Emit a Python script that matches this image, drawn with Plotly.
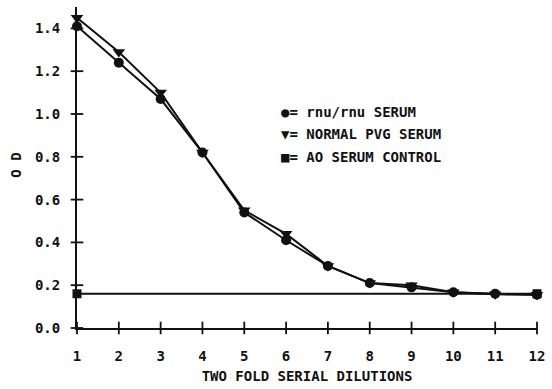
import plotly.graph_objects as go

dilutions = [1, 2, 3, 4, 5, 6, 7, 8, 9, 10, 11, 12]
rnu_serum = [1.41, 1.24, 1.07, 0.82, 0.54, 0.41, 0.29, 0.21, 0.19, 0.167, 0.16, 0.155]
pvg_serum = [1.45, 1.29, 1.10, 0.82, 0.55, 0.44, 0.29, 0.21, 0.20, 0.167, 0.158, 0.155]
control_x = [1, 12]
control_y = [0.16, 0.16]

y_ticks = [0.0, 0.2, 0.4, 0.6, 0.8, 1.0, 1.2, 1.4]
y_labels = ["0.0", "0.2", "0.4", "0.6", "0.8", "1.0", "1.2", "1.4"]
x_ticks = dilutions
x_labels = [str(v) for v in dilutions]

legend_rows = ["●= rnu/rnu SERUM", "▼= NORMAL PVG SERUM", "■= AO SERUM CONTROL"]
legend_y = [1.01, 0.905, 0.80]

FONT = "DejaVu Sans Mono"
black = "#111111"

fig = go.Figure()

# crossing tick marks
fig.add_trace(go.Scatter(x=x_ticks, y=[0] * len(x_ticks), mode="markers",
                         marker=dict(symbol="line-ns", size=9, line=dict(width=1.8, color=black)),
                         cliponaxis=False, hoverinfo="skip", showlegend=False))
fig.add_trace(go.Scatter(x=[1] * len(y_ticks), y=y_ticks, mode="markers",
                         marker=dict(symbol="line-ew", size=9, line=dict(width=1.8, color=black)),
                         cliponaxis=False, hoverinfo="skip", showlegend=False))

fig.add_trace(go.Scatter(x=control_x, y=control_y, mode="lines+markers",
                         line=dict(color=black, width=1.8),
                         marker=dict(symbol="square", size=9, color=black),
                         cliponaxis=False, showlegend=False))
fig.add_trace(go.Scatter(x=dilutions, y=pvg_serum, mode="lines+markers",
                         line=dict(color=black, width=2),
                         marker=dict(symbol="triangle-down", size=11, color=black),
                         cliponaxis=False, showlegend=False))
fig.add_trace(go.Scatter(x=dilutions, y=rnu_serum, mode="lines+markers",
                         line=dict(color=black, width=2),
                         marker=dict(symbol="circle", size=10, color=black),
                         cliponaxis=False, showlegend=False))

for txt, yy in zip(legend_rows, legend_y):
    fig.add_annotation(x=5.83, y=yy, xref="x", yref="y", text=txt, showarrow=False,
                       xanchor="left", yanchor="middle",
                       font=dict(family=FONT, size=14, color=black, weight="bold"))

fig.add_annotation(x=-0.132, y=0.76, xref="paper", yref="y", text="O D", showarrow=False,
                   textangle=-90, xanchor="center", yanchor="middle",
                   font=dict(family=FONT, size=14, color=black, weight="bold"))

fig.update_layout(
    width=552, height=389,
    margin=dict(l=77, r=13, t=7, b=60),
    paper_bgcolor="white", plot_bgcolor="white",
    xaxis=dict(range=[1, 12], tickvals=x_ticks, ticktext=x_labels, ticks="",
               showline=True, linewidth=2, linecolor=black, showgrid=False, zeroline=False,
               ticklabelstandoff=14,
               tickfont=dict(family=FONT, size=14, color=black, weight="bold"),
               title=dict(text="TWO FOLD SERIAL DILUTIONS", standoff=8,
                          font=dict(family=FONT, size=14, color=black, weight="bold"))),
    yaxis=dict(range=[0, 1.5], tickvals=y_ticks, ticktext=y_labels, ticks="",
               showline=True, linewidth=2, linecolor=black, showgrid=False, zeroline=False,
               ticklabelstandoff=12,
               tickfont=dict(family=FONT, size=14, color=black, weight="bold")),
)

fig.write_html("out.html")
